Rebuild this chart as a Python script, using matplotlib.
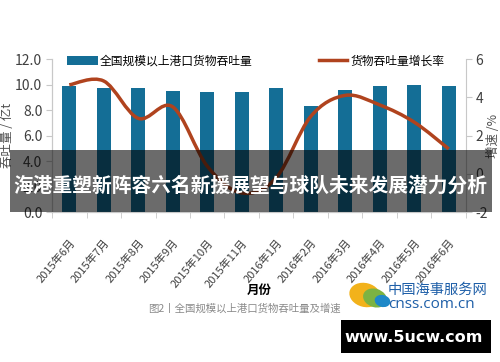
import numpy as np
import matplotlib
matplotlib.use("Agg")
import matplotlib.pyplot as plt
from matplotlib.path import Path
from matplotlib.patches import PathPatch, Rectangle, Ellipse

plt.rcParams['font.family'] = ['Noto Sans CJK SC', 'DejaVu Sans']

months = ['2015年6月', '2015年7月', '2015年8月', '2015年9月', '2015年10月', '2015年11月',
          '2016年1月', '2016年2月', '2016年3月', '2016年4月', '2016年5月', '2016年6月']
throughput = [9.9, 9.7, 9.7, 9.5, 9.4, 9.4, 9.7, 8.3, 9.55, 9.85, 10.0, 9.9]
growth = [4.65, 4.85, 2.9, 3.5, 0.4, -1.0, -0.2, 3.0, 4.1, 3.6, 2.7, 1.3]

bar_color = '#146e96'
line_color = '#b0431e'
tick_color = '#404040'
num_font = ['Liberation Sans Narrow', 'Noto Sans CJK SC']


def smooth_path(xs, ys):
    # Catmull-Rom turned into cubic bezier segments, like a spreadsheet "smoothed line"
    pts = np.column_stack([xs, ys]).astype(float)
    verts = [pts[0]]
    codes = [Path.MOVETO]
    n = len(pts)
    for i in range(n - 1):
        p0 = pts[i - 1] if i > 0 else pts[i]
        p1 = pts[i]
        p2 = pts[i + 1]
        p3 = pts[i + 2] if i + 2 < n else pts[i + 1]
        c1 = p1 + (p2 - p0) / 6.0
        c2 = p2 - (p3 - p1) / 6.0
        verts += [c1, c2, p2]
        codes += [Path.CURVE4] * 3
    return Path(verts, codes)


fig = plt.figure(figsize=(5, 3.62), dpi=100)
ax = fig.add_axes([0.104, 0.414, 0.828, 0.423])
ax2 = ax.twinx()

x = np.arange(len(months))
ax.bar(x, throughput, width=0.4, color=bar_color, zorder=2)
ax.set_xlim(-0.5, len(months) - 0.5)
ax.set_ylim(0, 12)
ax.set_yticks(np.arange(0, 12.1, 2))
ax.set_yticklabels(['%.1f' % v for v in np.arange(0, 12.1, 2)], family=num_font, fontsize=10, color=tick_color)
ax.set_xticks(x)
ax.set_xticklabels(months, rotation=50, ha='right', rotation_mode='anchor',
                   family=num_font, fontsize=8, color=tick_color)
ax.set_xticks(np.arange(-0.5, len(months)), minor=True)
ax.tick_params(axis='x', which='major', length=0, pad=18)
ax.tick_params(axis='x', which='minor', length=4, color='#c8c8c8')
ax.tick_params(axis='y', length=4, color='#c8c8c8', pad=3)
ax.set_xlabel('月份', fontsize=9, fontweight='bold', labelpad=-4)
ax.set_ylabel('吞吐量 / 亿t', fontsize=9, color='#505050', labelpad=1)

ax2.set_ylim(-2, 6)
ax2.set_yticks([-2, 0, 2, 4, 6])
ax2.set_yticklabels(['-2', '0', '2', '4', '6'], family=num_font, fontsize=10, color=tick_color)
ax2.tick_params(axis='y', length=4, color='#c8c8c8', pad=3)
ax2.set_ylabel('增速 /%', fontsize=9, color='#505050', labelpad=-1)
ax2.add_patch(PathPatch(smooth_path(x, growth), fill=False, edgecolor=line_color, lw=2.5, zorder=3))

for a in (ax, ax2):
    a.spines['top'].set_visible(False)
    for s in ('left', 'right', 'bottom'):
        a.spines[s].set_color('#c8c8c8')
ax.spines['right'].set_visible(False)

# legends
bar_h = ax.bar([0], [0], color=bar_color)
ax.legend([bar_h], ['全国规模以上港口货物吞吐量'], loc='upper left', bbox_to_anchor=(0.025, 1.06),
          frameon=False, fontsize=8.5, handlelength=2.6, handleheight=0.8, borderaxespad=0, handletextpad=0.2)
line_h, = ax2.plot([], [], color=line_color, lw=2.5)
ax2.legend([line_h], ['货物吞吐量增长率'], loc='upper right', bbox_to_anchor=(0.96, 1.06),
           frameon=False, fontsize=8.5, handlelength=2.4, borderaxespad=0, handletextpad=0.3)

# overlay band with headline
fig.patches.append(Rectangle((0.02, 1 - 212 / 362), 0.964, 62 / 362, transform=fig.transFigure,
                             facecolor='black', alpha=0.58, zorder=5))
fig.text(0.5, 1 - 186 / 362, '海港重塑新阵容六名新援展望与球队未来发展潜力分析', ha='center', va='center',
         color='white', fontsize=14.2, fontweight='bold', zorder=6)

# caption
fig.text(0.296, 1 - 309 / 362, '图2丨全国规模以上港口货物吞吐量及增速', ha='left', va='center',
         color='#8a8a8a', fontsize=7.5)

# logo
fig.patches.append(Ellipse((0.73, 1 - 295 / 362), 0.06, 0.07, angle=30, transform=fig.transFigure,
                           facecolor='#f2b21b', edgecolor='none'))
fig.patches.append(Ellipse((0.75, 1 - 298 / 362), 0.045, 0.055, angle=30, transform=fig.transFigure,
                           facecolor='#7cb342', edgecolor='none'))
fig.patches.append(Ellipse((0.765, 1 - 301 / 362), 0.03, 0.035, angle=30, transform=fig.transFigure,
                           facecolor='#1e88c8', edgecolor='none'))
fig.text(0.776, 1 - 290 / 362, '中国海事服务网', ha='left', va='center', color='#1e5fa8', fontsize=10.3)
fig.text(0.776, 1 - 305 / 362, 'cnss.com.cn', ha='left', va='center', color='#1e5fa8', fontsize=11,
         family=['Open Sans', 'DejaVu Sans'])

# watermark box
fig.patches.append(Rectangle((0.682, 1 - 353 / 362), 0.3, 33 / 362, transform=fig.transFigure,
                             facecolor='black', zorder=5))
fig.text(0.828, 1 - 337 / 362, 'www.5ucw.com', ha='center', va='center', color='white',
         fontsize=11.5, fontweight='bold', family=['DejaVu Sans'], zorder=6)

fig.savefig('out.png', dpi=100)
